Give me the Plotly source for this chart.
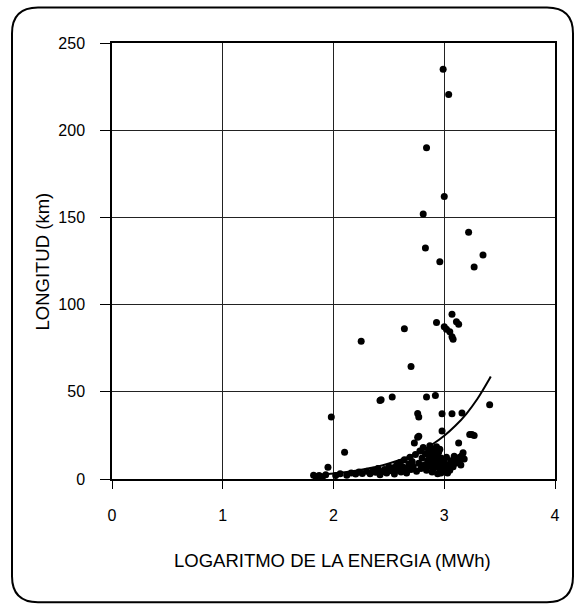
import plotly.graph_objects as go

# ---- data ----
x_points = [
    2.99, 3.04, 2.84, 3.00, 2.81, 3.22, 2.83, 2.96, 3.35, 3.27,
    3.07, 2.93, 3.11, 3.13, 3.00, 3.02, 3.05, 3.07, 3.08, 2.64, 2.25, 2.70,
    2.42, 2.43, 2.53, 2.84, 2.92, 3.41, 2.76, 2.77, 2.98, 3.07, 3.16,
    2.98, 3.23, 3.25, 3.27, 2.77, 3.13,
    1.82, 1.84, 1.87, 1.90, 1.93, 1.95, 1.98, 2.02, 2.06, 2.10, 2.12, 2.16,
    2.20, 2.23, 2.26, 2.30, 2.33, 2.36, 2.38, 2.40, 2.42, 2.44, 2.46, 2.48,
    2.50, 2.52, 2.54, 2.55, 2.57, 2.58, 2.60, 2.61, 2.62, 2.64, 2.65, 2.66,
    2.68, 2.69, 2.70, 2.71, 2.72, 2.73, 2.74, 2.75, 2.76, 2.77, 2.78, 2.79,
    2.80, 2.81, 2.82, 2.83, 2.84, 2.85, 2.86, 2.87, 2.87, 2.88, 2.89, 2.89,
    2.90, 2.91, 2.91, 2.92, 2.93, 2.93, 2.94, 2.95, 2.95, 2.96, 2.97, 2.98,
    2.99, 3.00, 3.01, 3.02, 3.03, 3.04, 3.05, 3.06, 3.08, 3.09, 3.10, 3.12,
    3.14, 3.16, 3.18, 3.17, 3.15, 2.88, 2.92, 2.96, 2.86, 2.90, 2.94,
    2.97, 3.00, 3.03, 3.06, 3.09, 3.11, 3.14, 2.89, 2.91, 2.93, 2.87, 2.95,
]
y_points = [
    235.0, 220.5, 190.0, 162.0, 152.0, 141.5, 132.5, 124.5, 128.5, 121.5,
    94.4, 89.8, 90.2, 88.7, 87.3, 85.8, 84.5, 81.6, 80.1, 86.2, 79.0, 64.5,
    45.0, 45.5, 47.0, 47.0, 47.9, 42.6, 37.5, 35.5, 37.4, 37.4, 37.8,
    27.5, 25.5, 25.5, 25.0, 24.5, 20.7,
    2.2, 1.5, 2.0, 1.2, 2.5, 6.7, 35.5, 2.0, 3.0, 15.3, 2.2, 3.5,
    2.8, 4.0, 3.2, 4.5, 3.0, 5.0, 3.8, 6.0, 2.5, 4.2, 5.5, 3.5,
    7.0, 4.8, 6.5, 2.8, 8.0, 5.0, 9.5, 4.0, 7.2, 11.0, 6.0, 3.5,
    8.5, 12.5, 5.5, 10.0, 7.0, 20.7, 14.0, 4.5, 24.0, 9.0, 16.0, 6.0,
    12.0, 18.0, 8.0, 14.5, 5.0, 10.5, 16.5, 7.5, 19.0, 12.5, 4.0, 9.0,
    15.0, 11.0, 6.5, 17.5, 13.0, 8.0, 3.0, 10.0, 15.5, 6.0, 12.0, 8.5,
    4.5, 10.0, 6.5, 12.5, 3.5, 8.0, 5.0, 10.5, 7.0, 13.0, 9.0, 11.0,
    10.0, 13.5, 11.5, 15.0, 8.0, 14.0, 9.5, 17.0, 11.0, 7.0, 13.5,
    3.5, 5.0, 6.5, 8.0, 9.5, 11.0, 12.5, 16.0, 8.5, 18.5, 13.0, 11.5,
]

curve_x = [1.80, 1.90, 2.00, 2.10, 2.20, 2.30, 2.40, 2.50, 2.60, 2.70,
           2.80, 2.90, 3.00, 3.10, 3.20, 3.30, 3.40, 3.42]
curve_y = [2.1, 2.6, 3.2, 3.9, 4.8, 5.9, 7.2, 8.9, 10.9, 13.4,
           16.4, 20.2, 24.8, 30.5, 37.4, 46.0, 56.5, 58.8]

x_ticks = [0, 1, 2, 3, 4]
y_ticks = [0, 50, 100, 150, 200, 250]

x_title = "LOGARITMO DE LA ENERGIA (MWh)"
y_title = "LONGITUD (km)"

# ---- layout geometry (pixels) ----
W, H = 576, 610
L, R, T, B = 112, 21, 42.5, 130.5
pw, ph = W - L - R, H - T - B


def px(xpix):
    return (xpix - L) / pw


def py(ypix):
    return (H - B - ypix) / ph


FONT = "Liberation Sans, Arial, sans-serif"

fig = go.Figure()
fig.add_trace(go.Scatter(
    x=x_points, y=y_points, mode="markers",
    marker=dict(color="black", size=7, line=dict(width=0)),
    showlegend=False, hoverinfo="x+y",
))
fig.add_trace(go.Scatter(
    x=curve_x, y=curve_y, mode="lines",
    line=dict(color="black", width=2, shape="spline"),
    showlegend=False,
))

# rounded frame
x0, x1, y0, y1, r = 12, 573, 7, 603, 26
path = (
    f"M {px(x0 + r)},{py(y0)} L {px(x1 - r)},{py(y0)} "
    f"Q {px(x1)},{py(y0)} {px(x1)},{py(y0 + r)} "
    f"L {px(x1)},{py(y1 - r)} Q {px(x1)},{py(y1)} {px(x1 - r)},{py(y1)} "
    f"L {px(x0 + r)},{py(y1)} Q {px(x0)},{py(y1)} {px(x0)},{py(y1 - r)} "
    f"L {px(x0)},{py(y0 + r)} Q {px(x0)},{py(y0)} {px(x0 + r)},{py(y0)} Z"
)
fig.add_shape(type="path", path=path, xref="paper", yref="paper",
              line=dict(color="black", width=2))

fig.add_annotation(text=x_title, x=px(332), y=py(561), xref="paper", yref="paper",
                   xanchor="center", yanchor="middle",
                   showarrow=False, font=dict(family=FONT, size=18.5, color="black"))
fig.add_annotation(text=y_title, x=px(42.5), y=py(262), xref="paper", yref="paper",
                   xanchor="center", yanchor="middle",
                   showarrow=False, textangle=-90,
                   font=dict(family=FONT, size=18.5, color="black"))

fig.update_xaxes(
    range=[0, 4], tickvals=x_ticks, ticktext=[str(v) for v in x_ticks],
    showgrid=True, gridcolor="#222", gridwidth=1,
    showline=True, linecolor="black", linewidth=1.5, mirror=True,
    ticks="outside", ticklen=8, tickcolor="black", ticklabelstandoff=13,
    zeroline=False, tickfont=dict(family=FONT, size=16, color="black"),
)
fig.update_yaxes(
    range=[0, 250], tickvals=y_ticks, ticktext=[str(v) for v in y_ticks],
    showgrid=True, gridcolor="#222", gridwidth=1,
    showline=True, linecolor="black", linewidth=1.5, mirror=True,
    ticks="outside", ticklen=10, tickcolor="black", ticklabelstandoff=12,
    zeroline=False, tickfont=dict(family=FONT, size=16, color="black"),
)
fig.update_layout(
    width=W, height=H, autosize=False,
    margin=dict(l=L, r=R, t=T, b=B),
    paper_bgcolor="white", plot_bgcolor="white",
    showlegend=False,
)

fig.write_html("out.html")
